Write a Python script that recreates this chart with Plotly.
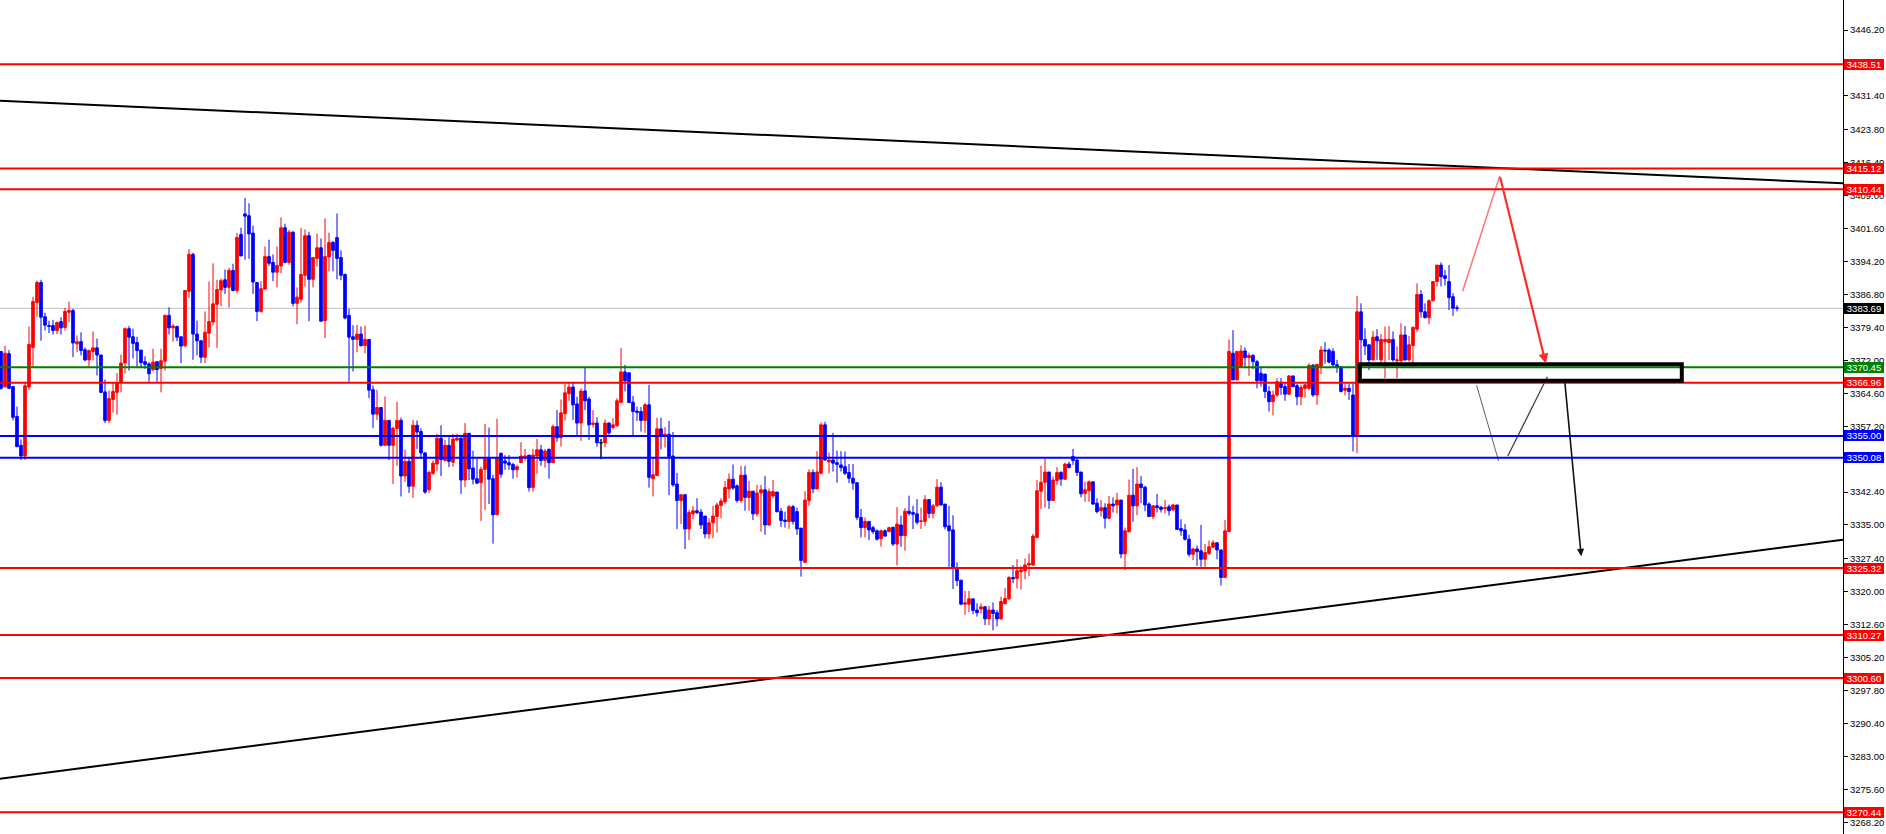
import plotly.graph_objects as go

# ---------------- candle data (index = bar number) ----------------
opens = [
3374.0,3366.0,3373.5,3366.1,3359.4,3352.9,3350.5,3366.0,3374.9,3385.0,
3389.5,3381.8,3379.8,3379.8,3378.7,3380.7,3379.4,3382.8,3383.2,3375.7,
3376.2,3374.4,3372.1,3374.0,3374.8,3373.2,3364.9,3358.5,3363.2,3364.8,
3367.0,3371.4,3379.1,3377.3,3376.0,3374.3,3371.7,3371.2,3369.9,3371.7,
3370.2,3371.8,3382.1,3379.3,3379.6,3377.3,3375.3,3387.5,3395.8,3377.9,
3376.4,3372.7,3378.1,3380.6,3384.6,3387.8,3390.1,3388.4,3392.2,3387.7,
3400.3,3404.9,3404.5,3400.6,3389.5,3383.0,3388.0,3395.3,3394.0,3391.8,
3393.2,3401.8,3394.0,3400.8,3384.8,3385.7,3391.1,3400.0,3390.2,3394.9,
3397.3,3380.9,3395.2,3398.5,3399.6,3395.1,3391.3,3382.1,3377.3,3376.7,
3377.9,3375.3,3376.7,3365.4,3359.9,3361.4,3352.9,3358.5,3352.9,3356.7,
3358.5,3346.0,3349.3,3343.7,3357.4,3356.0,3351.2,3342.9,3346.6,3348.7,
3354.5,3349.5,3352.9,3349.1,3354.1,3354.5,3345.1,3355.6,3347.8,3345.4,
3344.5,3347.5,3349.9,3345.4,3337.3,3351.1,3349.4,3349.0,3348.6,3347.4,
3349.0,3350.2,3350.7,3343.4,3350.5,3351.9,3349.5,3352.0,3349.0,3357.1,
3354.6,3360.0,3364.5,3366.0,3362.2,3357.9,3365.1,3363.3,3357.6,3357.9,
3353.5,3353.5,3357.9,3356.9,3357.3,3362.5,3369.4,3369.2,3362.6,3360.6,
3360.5,3358.5,3362.0,3345.4,3346.1,3356.6,3355.0,3355.4,3350.5,3344.2,
3340.5,3341.8,3334.1,3337.5,3338.2,3337.9,3337.0,3333.0,3335.5,3336.9,
3339.4,3340.2,3343.1,3345.3,3343.8,3340.5,3346.2,3341.2,3342.6,3337.5,
3342.2,3342.9,3335.0,3341.5,3342.4,3338.1,3336.1,3335.8,3339.1,3338.0,
3334.3,3326.6,3340.5,3346.8,3343.1,3346.6,3357.5,3349.2,3349.6,3349.0,
3348.5,3348.1,3346.8,3345.5,3344.5,3336.7,3334.4,3335.8,3334.4,3333.7,
3331.9,3333.7,3333.5,3334.5,3330.7,3335.0,3332.6,3338.1,3337.8,3337.5,
3335.8,3335.8,3340.7,3337.6,3339.3,3343.5,3339.7,3334.8,3333.9,3325.4,
3322.6,3317.2,3317.2,3318.4,3315.9,3316.1,3316.6,3313.9,3315.9,3315.3,
3313.9,3317.3,3318.4,3323.2,3323.0,3324.5,3324.7,3326.0,3326.0,3332.2,
3342.6,3344.6,3346.9,3340.5,3345.0,3346.8,3345.3,3348.7,3350.4,3349.6,
3346.9,3342.1,3342.7,3344.7,3339.9,3338.2,3338.9,3336.5,3339.7,3339.5,
3340.6,3328.5,3333.5,3341.7,3339.3,3344.2,3343.5,3339.7,3336.9,3339.3,
3339.0,3338.7,3339.1,3338.4,3339.5,3334.2,3333.9,3331.8,3328.4,3329.6,
3329.2,3327.3,3328.6,3330.0,3331.0,3329.4,3323.2,3333.5,3373.6,3367.6,
3370.4,3374.1,3372.6,3373.1,3371.7,3369.1,3368.9,3365.0,3362.7,3364.2,
3366.8,3366.1,3364.4,3368.5,3366.3,3363.8,3365.7,3365.7,3370.9,3364.2,
3370.7,3374.3,3374.3,3374.0,3371.0,3370.6,3365.3,3365.7,3364.2,3355.0,
3382.9,3376.7,3375.5,3372.1,3377.3,3372.1,3376.2,3376.0,3376.7,3371.9,
3371.9,3377.7,3372.1,3375.3,3379.0,3386.8,3382.9,3381.6,3385.4,3389.7,
3393.4,3391.0,3389.7,3386.3,3383.8]

highs = [
3374.0,3375.3,3374.3,3366.1,3361.6,3354.2,3366.9,3379.6,3386.3,3389.9,
3390.1,3382.7,3380.9,3381.1,3380.7,3381.7,3383.8,3385.2,3383.6,3377.6,
3378.3,3374.9,3374.4,3378.5,3376.9,3373.2,3367.7,3365.2,3366.9,3369.1,
3373.3,3379.4,3379.7,3379.1,3377.3,3374.3,3372.9,3371.6,3374.6,3371.7,
3374.6,3382.3,3383.9,3380.2,3379.8,3377.3,3387.7,3397.0,3396.2,3380.9,
3376.4,3383.0,3389.7,3393.8,3390.1,3390.4,3392.4,3392.8,3393.7,3400.6,
3401.8,3408.5,3407.3,3402.3,3389.5,3389.8,3397.6,3399.1,3395.8,3397.6,
3404.1,3402.7,3401.3,3401.0,3388.4,3401.7,3401.4,3400.9,3395.1,3400.5,
3399.4,3403.9,3400.7,3398.8,3405.0,3396.7,3391.5,3383.6,3379.9,3380.0,
3379.6,3379.8,3376.7,3366.3,3365.4,3361.4,3363.9,3358.5,3357.1,3362.7,
3359.1,3352.0,3350.3,3358.6,3358.5,3356.7,3351.4,3347.2,3349.5,3355.5,
3357.4,3354.1,3354.7,3355.5,3355.5,3354.7,3357.9,3355.6,3351.7,3349.9,
3348.1,3357.7,3356.9,3346.3,3358.9,3351.3,3350.7,3350.7,3349.0,3348.5,
3353.6,3352.1,3350.7,3352.1,3354.3,3353.0,3352.1,3352.2,3357.6,3360.8,
3363.2,3366.8,3367.1,3367.1,3363.8,3365.7,3370.4,3363.8,3360.8,3359.2,
3354.3,3358.7,3358.1,3359.0,3363.5,3374.8,3371.0,3369.2,3364.0,3361.6,
3361.5,3362.4,3366.5,3350.0,3359.1,3359.1,3357.0,3358.4,3355.9,3346.7,
3342.0,3342.0,3338.4,3339.3,3341.0,3338.6,3337.0,3336.5,3339.3,3340.0,
3341.0,3344.9,3346.6,3348.6,3344.1,3348.3,3348.3,3344.9,3342.6,3344.0,
3344.0,3346.0,3343.2,3345.1,3342.4,3338.8,3338.0,3339.5,3339.5,3338.9,
3334.3,3342.6,3347.5,3347.5,3351.6,3358.0,3358.2,3351.3,3355.7,3351.7,
3351.6,3351.5,3348.7,3348.7,3344.5,3338.6,3336.7,3335.8,3334.8,3334.0,
3334.0,3334.0,3334.6,3334.5,3339.0,3337.1,3338.8,3341.6,3339.3,3340.8,
3338.9,3341.7,3340.8,3339.7,3345.3,3344.6,3339.7,3339.3,3337.2,3326.6,
3322.6,3320.2,3320.2,3318.4,3317.4,3317.4,3316.8,3316.8,3317.6,3315.9,
3318.9,3320.8,3323.5,3326.0,3327.3,3325.8,3327.5,3328.6,3333.0,3345.1,
3348.3,3349.9,3346.9,3345.9,3348.0,3347.1,3349.0,3349.2,3352.1,3349.8,
3346.9,3344.7,3345.0,3344.7,3341.0,3340.6,3339.9,3341.5,3341.2,3342.2,
3340.6,3334.4,3345.2,3347.6,3348.0,3346.0,3343.8,3340.1,3339.5,3342.0,
3339.3,3340.6,3339.6,3339.7,3339.5,3336.3,3335.2,3332.8,3329.9,3330.4,
3335.0,3330.7,3331.5,3331.6,3331.0,3329.4,3336.1,3376.7,3378.8,3374.1,
3375.4,3374.9,3373.7,3373.4,3372.1,3370.6,3368.9,3366.2,3365.2,3368.0,
3368.0,3367.0,3368.7,3368.5,3366.7,3366.5,3366.6,3371.3,3371.2,3371.1,
3375.2,3376.1,3374.7,3374.7,3372.1,3370.7,3366.8,3366.8,3366.8,3386.5,
3384.8,3379.2,3375.5,3378.6,3379.0,3377.9,3379.6,3379.7,3378.5,3375.1,
3380.3,3379.7,3377.5,3379.6,3389.3,3387.8,3384.8,3385.7,3389.7,3393.4,
3394.0,3392.3,3393.4,3387.1,3384.4]

lows = [
3365.4,3366.0,3365.7,3358.5,3352.5,3349.6,3349.6,3365.4,3370.4,3381.8,
3376.4,3378.7,3378.1,3377.8,3377.9,3377.8,3378.7,3380.6,3372.7,3373.8,
3373.1,3371.8,3370.6,3372.0,3368.6,3364.6,3357.9,3357.9,3360.3,3359.8,
3364.8,3369.0,3369.7,3372.4,3370.6,3370.3,3370.1,3367.2,3369.5,3367.2,
3364.8,3369.7,3377.8,3376.2,3376.3,3371.4,3374.9,3386.0,3372.1,3373.1,
3371.4,3371.4,3374.9,3379.8,3374.8,3384.2,3386.9,3383.9,3387.5,3387.1,
3395.3,3394.6,3394.8,3386.9,3380.8,3382.7,3388.0,3393.2,3389.8,3388.4,
3391.6,3393.8,3393.5,3384.1,3380.1,3385.0,3388.6,3380.8,3388.4,3393.1,
3380.8,3377.0,3392.0,3392.0,3390.2,3390.0,3381.2,3367.2,3369.5,3373.8,
3375.1,3373.6,3363.5,3356.8,3358.6,3352.6,3352.9,3349.6,3344.2,3348.3,
3341.4,3344.7,3342.2,3341.1,3352.1,3349.9,3342.0,3342.2,3346.3,3347.1,
3346.0,3349.3,3348.0,3348.1,3353.8,3342.0,3343.5,3345.1,3344.1,3344.2,
3335.9,3338.4,3339.7,3330.8,3337.3,3345.6,3347.4,3347.4,3345.4,3345.7,
3349.0,3349.4,3342.5,3342.5,3346.5,3348.3,3347.9,3345.4,3348.9,3353.7,
3352.6,3358.5,3362.9,3358.6,3355.2,3353.9,3360.8,3354.1,3356.9,3352.6,
3349.8,3352.5,3355.2,3356.4,3357.1,3362.5,3365.0,3362.5,3355.0,3358.4,
3356.0,3355.7,3343.4,3341.4,3346.1,3352.0,3352.4,3341.7,3343.6,3334.1,
3335.2,3329.6,3331.6,3336.3,3337.4,3334.1,3332.0,3331.9,3332.0,3333.3,
3336.5,3339.7,3341.0,3342.9,3340.0,3340.0,3338.2,3338.2,3336.1,3336.9,
3333.5,3332.8,3334.8,3341.0,3337.8,3334.6,3334.4,3334.1,3335.1,3332.8,
3323.4,3326.5,3339.3,3342.1,3343.1,3346.4,3349.5,3346.6,3347.0,3344.5,
3347.0,3346.2,3344.4,3342.9,3336.1,3332.2,3332.2,3331.6,3333.0,3331.5,
3330.1,3332.4,3333.4,3330.3,3325.9,3330.1,3329.2,3337.1,3334.1,3335.1,
3334.1,3334.8,3336.5,3336.5,3339.1,3339.3,3334.0,3325.6,3320.6,3321.3,
3317.0,3314.8,3315.4,3315.0,3314.4,3315.1,3312.5,3312.5,3311.3,3312.2,
3313.7,3317.3,3318.1,3321.9,3320.8,3320.5,3322.8,3323.5,3325.8,3332.0,
3338.6,3338.9,3338.6,3340.5,3344.0,3343.8,3345.1,3347.7,3348.5,3346.0,
3341.2,3340.2,3340.2,3339.5,3337.6,3336.9,3334.2,3336.3,3337.8,3337.6,
3327.5,3324.9,3333.3,3335.7,3337.2,3339.9,3338.1,3336.9,3336.3,3337.8,
3337.8,3337.6,3337.1,3338.1,3333.9,3332.6,3331.5,3327.9,3327.1,3325.8,
3325.6,3325.6,3328.3,3329.8,3327.3,3321.4,3323.2,3333.4,3367.6,3367.6,
3370.4,3370.6,3368.5,3370.0,3365.7,3366.1,3363.5,3360.5,3359.6,3363.8,
3364.2,3362.9,3364.2,3365.9,3361.9,3361.9,3363.6,3365.3,3363.8,3362.0,
3368.9,3371.3,3371.3,3370.6,3369.2,3364.8,3364.1,3363.1,3351.5,3351.1,
3369.8,3373.2,3369.8,3371.9,3372.1,3371.3,3368.0,3372.1,3371.7,3368.0,
3371.7,3371.9,3371.7,3370.2,3378.4,3381.6,3381.4,3380.1,3385.2,3388.6,
3388.6,3388.8,3383.3,3382.0,3383.0]

closes = [
3365.7,3373.6,3365.7,3359.2,3352.6,3350.5,3366.3,3375.6,3385.2,3389.5,
3381.7,3379.9,3379.6,3378.7,3380.5,3379.3,3383.0,3383.2,3375.9,3376.2,
3374.2,3372.1,3374.2,3374.8,3373.2,3364.8,3358.5,3363.4,3365.0,3367.0,
3371.4,3379.1,3377.2,3375.8,3374.2,3371.5,3371.1,3369.0,3371.6,3369.9,
3371.9,3382.1,3379.3,3379.7,3377.2,3375.2,3387.7,3395.8,3377.9,3376.4,
3372.7,3378.3,3380.7,3384.7,3387.9,3389.9,3388.4,3392.2,3387.7,3399.6,
3395.5,3404.4,3400.4,3389.6,3383.0,3388.1,3395.3,3393.8,3391.8,3393.3,
3401.8,3394.0,3400.8,3384.8,3386.2,3391.3,3400.0,3390.2,3395.1,3397.3,
3380.8,3395.3,3398.5,3396.7,3394.9,3391.1,3381.5,3377.2,3376.7,3377.9,
3375.3,3376.7,3365.3,3359.9,3361.4,3352.9,3358.5,3352.9,3356.7,3358.5,
3346.0,3349.3,3343.7,3357.4,3355.9,3351.2,3342.4,3346.8,3348.9,3354.5,
3349.7,3352.9,3349.3,3354.3,3354.5,3345.1,3355.6,3347.6,3345.3,3344.4,
3347.5,3349.9,3345.3,3337.3,3349.9,3346.4,3348.9,3348.5,3347.4,3348.1,
3350.5,3350.5,3343.4,3350.7,3351.9,3349.5,3351.6,3349.0,3357.1,3354.6,
3360.2,3364.7,3366.0,3362.0,3357.9,3365.1,3362.9,3357.5,3357.9,3353.5,
3353.5,3357.9,3355.7,3357.5,3362.9,3369.4,3367.4,3362.5,3360.5,3360.3,
3358.5,3362.0,3345.7,3346.3,3356.6,3355.0,3355.4,3350.4,3344.0,3340.5,
3341.8,3334.1,3337.8,3338.2,3337.8,3335.0,3333.0,3335.5,3337.0,3339.5,
3340.4,3343.4,3345.3,3343.3,3340.5,3346.2,3341.2,3342.6,3337.5,3342.2,
3342.9,3335.0,3342.5,3342.5,3338.0,3336.0,3335.8,3339.1,3335.8,3334.1,
3327.0,3340.6,3346.8,3343.1,3346.9,3357.5,3349.6,3349.6,3348.9,3348.6,
3347.9,3346.6,3345.5,3344.4,3336.7,3334.4,3335.8,3333.9,3333.5,3331.8,
3333.7,3332.5,3334.4,3330.7,3335.2,3332.6,3338.1,3337.6,3337.4,3335.6,
3335.9,3340.7,3337.6,3339.3,3343.5,3339.5,3334.6,3333.7,3325.4,3322.5,
3317.2,3317.5,3318.4,3315.8,3315.3,3316.6,3313.9,3315.9,3315.1,3313.9,
3317.8,3318.5,3323.2,3322.9,3324.7,3324.9,3326.0,3326.4,3332.5,3342.7,
3344.6,3346.9,3340.5,3345.1,3346.8,3345.3,3348.7,3347.9,3349.5,3346.8,
3342.0,3342.9,3344.7,3339.7,3338.0,3338.9,3336.5,3339.7,3339.3,3340.6,
3328.5,3333.7,3341.7,3339.3,3344.2,3343.4,3339.5,3336.9,3339.3,3338.9,
3338.5,3338.9,3338.2,3339.5,3334.0,3333.7,3331.8,3328.4,3329.6,3329.0,
3327.3,3328.8,3330.1,3331.0,3329.4,3323.2,3333.7,3374.0,3367.6,3374.0,
3374.1,3372.6,3373.1,3371.7,3367.4,3367.4,3365.0,3362.7,3364.2,3367.2,
3365.9,3364.4,3368.5,3366.1,3363.8,3365.9,3366.5,3370.9,3364.2,3371.1,
3374.3,3374.1,3371.6,3371.0,3370.6,3365.0,3365.7,3365.0,3355.0,3382.9,
3376.6,3375.2,3372.1,3377.2,3376.4,3376.7,3376.7,3376.7,3372.1,3372.1,
3377.7,3372.1,3375.5,3379.4,3386.8,3382.9,3381.6,3385.4,3389.7,3393.4,
3390.8,3390.4,3386.1,3383.7,3383.69]

# ---------------- levels / drawings ----------------
red_levels = [3438.51, 3415.12, 3410.44, 3366.96, 3325.32, 3310.27, 3300.60, 3270.44]
green_levels = [3370.45]
blue_levels = [3355.00, 3350.08]
last_price = 3383.69

tick_vals = [3446.20, 3438.80, 3431.40, 3423.80, 3416.40, 3409.00, 3401.60, 3394.20,
             3386.80, 3379.40, 3372.00, 3364.60, 3357.20, 3349.80, 3342.40, 3335.00,
             3327.40, 3320.00, 3312.60, 3305.20, 3297.80, 3290.40, 3283.00, 3275.60, 3268.20]

x_range = [-0.25, 460.5]
y_range = [3265.56, 3452.97]

upper_trend_x = [-0.25, 460.5]
upper_trend_y = [3430.35, 3411.77]
lower_trend_x = [-0.25, 460.5]
lower_trend_y = [3278.0, 3331.7]

red_path_x = [365.4, 374.7, 386.2]
red_path_y = [3387.5, 3413.5, 3371.3]

zone_x = [339.7, 420.2]
zone_y = [3367.4, 3371.1]

v_down_x = [368.9, 374.4]
v_down_y = [3366.4, 3349.4]
v_up_x = [376.7, 386.6]
v_up_y = [3350.5, 3368.3]
drop_x = [390.95, 395.05]
drop_y = [3367.2, 3328.0]

# ---------------- figure ----------------
idx = list(range(len(opens)))
hs = [max(h, o, c) for h, o, c in zip(highs, opens, closes)]
ls = [min(l, o, c) for l, o, c in zip(lows, opens, closes)]

fig = go.Figure()

fig.add_trace(go.Candlestick(
    x=idx, open=opens, high=hs, low=ls, close=closes,
    increasing=dict(line=dict(color='#FF0000', width=1), fillcolor='#FF0000'),
    decreasing=dict(line=dict(color='#0000FF', width=1), fillcolor='#0000FF'),
    whiskerwidth=0, hoverinfo='skip', showlegend=False))

doji = [i for i in idx if opens[i] == closes[i]]
if doji:
    fig.add_trace(go.Candlestick(
        x=doji, open=[opens[i] for i in doji], high=[hs[i] for i in doji],
        low=[ls[i] for i in doji], close=[closes[i] for i in doji],
        increasing=dict(line=dict(color='#000000', width=1), fillcolor='#000000'),
        decreasing=dict(line=dict(color='#000000', width=1), fillcolor='#000000'),
        whiskerwidth=0, hoverinfo='skip', showlegend=False))

# trend lines
fig.add_trace(go.Scatter(x=upper_trend_x, y=upper_trend_y, mode='lines',
                         line=dict(color='#000000', width=2), hoverinfo='skip', showlegend=False))
fig.add_trace(go.Scatter(x=lower_trend_x, y=lower_trend_y, mode='lines',
                         line=dict(color='#000000', width=2), hoverinfo='skip', showlegend=False))

# projection lines
fig.add_trace(go.Scatter(x=red_path_x[:2], y=red_path_y[:2], mode='lines',
                         line=dict(color='rgba(255,0,0,0.55)', width=1.5), hoverinfo='skip', showlegend=False))
fig.add_trace(go.Scatter(x=v_down_x, y=v_down_y, mode='lines',
                         line=dict(color='rgba(40,40,40,0.75)', width=1), hoverinfo='skip', showlegend=False))
fig.add_trace(go.Scatter(x=v_up_x, y=v_up_y, mode='lines',
                         line=dict(color='rgba(20,20,20,0.85)', width=1.2), hoverinfo='skip', showlegend=False))

shapes = []
# current price line (behind candles)
shapes.append(dict(type='line', xref='paper', x0=0, x1=1, yref='y', y0=last_price, y1=last_price,
                   line=dict(color='#C0C0C0', width=1), layer='below'))
for lv in red_levels:
    shapes.append(dict(type='line', xref='paper', x0=0, x1=1, yref='y', y0=lv, y1=lv,
                       line=dict(color='#FF0000', width=2), layer='above'))
for lv in green_levels:
    shapes.append(dict(type='line', xref='paper', x0=0, x1=1, yref='y', y0=lv, y1=lv,
                       line=dict(color='#008000', width=2), layer='above'))
for lv in blue_levels:
    shapes.append(dict(type='line', xref='paper', x0=0, x1=1, yref='y', y0=lv, y1=lv,
                       line=dict(color='#0000FF', width=2), layer='above'))
# zone box
shapes.append(dict(type='rect', xref='x', yref='y', x0=zone_x[0], x1=zone_x[1],
                   y0=zone_y[0], y1=zone_y[1], line=dict(color='#000000', width=4),
                   fillcolor='rgba(0,0,0,0)', layer='above'))

annotations = []
# arrows
annotations.append(dict(x=red_path_x[2], y=red_path_y[2], ax=red_path_x[1], ay=red_path_y[1],
                        xref='x', yref='y', axref='x', ayref='y', text='', showarrow=True,
                        arrowhead=2, arrowsize=0.9, arrowwidth=2.2, arrowcolor='#FF2A2A'))
annotations.append(dict(x=drop_x[1], y=drop_y[1], ax=drop_x[0], ay=drop_y[0],
                        xref='x', yref='y', axref='x', ayref='y', text='', showarrow=True,
                        arrowhead=2, arrowsize=0.9, arrowwidth=1.6, arrowcolor='#111111'))

label_font = dict(family='Liberation Sans, Arial, sans-serif', size=9.5, color='#FFFFFF')

def level_label(val, bg):
    return dict(xref='paper', x=1, xanchor='left', xshift=1, yref='y', y=val, yanchor='middle',
                text='%.2f' % val, showarrow=False, bgcolor=bg, font=label_font,
                width=40, height=11, borderpad=0, borderwidth=0, align='center')

for lv in red_levels:
    annotations.append(level_label(lv, '#FF0000'))
for lv in green_levels:
    annotations.append(level_label(lv, '#008000'))
for lv in blue_levels:
    annotations.append(level_label(lv, '#0000FF'))
annotations.append(level_label(last_price, '#000000'))

fig.update_layout(
    width=1886, height=834,
    margin=dict(l=0, r=43, t=0, b=0),
    paper_bgcolor='#FFFFFF', plot_bgcolor='#FFFFFF',
    showlegend=False,
    boxgap=0.35, boxgroupgap=0,
    shapes=shapes, annotations=annotations,
    xaxis=dict(range=x_range, visible=False, showgrid=False, zeroline=False,
               rangeslider=dict(visible=False), fixedrange=True),
    yaxis=dict(range=y_range, side='right', showgrid=False, zeroline=False,
               showline=True, linecolor='#000000', linewidth=1, mirror=False,
               ticks='outside', ticklen=4, tickcolor='#000000', tickwidth=1,
               tickvals=tick_vals, ticktext=['%.2f' % v for v in tick_vals],
               tickfont=dict(family='Liberation Sans, Arial, sans-serif', size=9.5, color='#000000'),
               fixedrange=True),
)

fig.write_html("out.html", config={'displayModeBar': False, 'staticPlot': True},
               post_script="document.body.style.margin='0';document.body.style.overflow='hidden';")
